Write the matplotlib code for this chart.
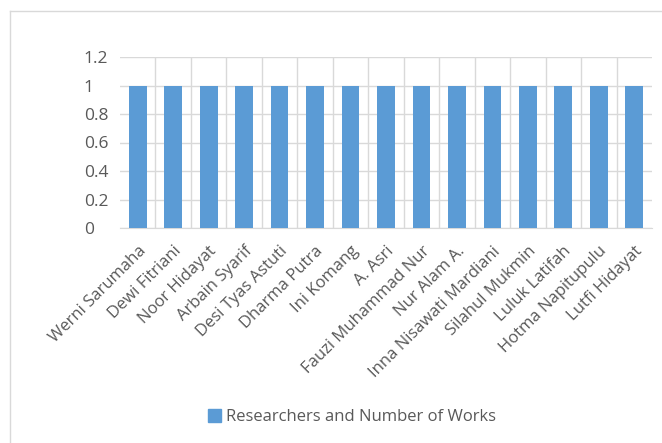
import matplotlib
matplotlib.use("Agg")
import matplotlib.pyplot as plt
from matplotlib.patches import Patch
from matplotlib.lines import Line2D

researchers = ["Werni Sarumaha", "Dewi Fitriani", "Noor Hidayat", "Arbain Syarif",
               "Desi Tyas Astuti", "Dharma Putra", "Ini Komang", "A. Asri",
               "Fauzi Muhammad Nur", "Nur Alam A.", "Inna Nisawati Mardiani",
               "Silahul Mukmin", "Luluk Latifah", "Hotma Napitupulu", "Lutfi Hidayat"]
works = [1, 1, 1, 1, 1, 1, 1, 1, 1, 1, 1, 1, 1, 1, 1]
yticks = [0, 0.2, 0.4, 0.6, 0.8, 1, 1.2]
ytick_labels = ["0", "0.2", "0.4", "0.6", "0.8", "1", "1.2"]
series_name = "Researchers and Number of Works"

W, H = 662, 443
fig = plt.figure(figsize=(W/100, H/100), dpi=100)
plt.rcParams['font.family'] = ['Open Sans', 'DejaVu Sans']

# plot area: x 120..652, y 57..228 (pixels from top)
ax = fig.add_axes([120/W, 1-228/H, (652-120)/W, (228-57)/H])
n = len(researchers)
x = list(range(n))
ax.bar(x, works, width=0.5, color="#5B9BD5", zorder=3)
ax.set_xlim(-0.5, n-0.5)
ax.set_ylim(0, 1.2)
ax.set_yticks(yticks)
ax.set_yticklabels(ytick_labels)
ax.yaxis.grid(True, color="#D9D9D9", linewidth=1, zorder=0)
for b in range(1, n):
    ax.axvline(b-0.5, color="#D9D9D9", linewidth=1, zorder=0)
for s in ["top", "right", "left"]:
    ax.spines[s].set_visible(False)
ax.spines["bottom"].set_color("#D9D9D9")
ax.tick_params(axis="y", length=0, labelsize=12.5, labelcolor="#595959", pad=26)
ax.tick_params(axis="x", length=0, labelsize=12, labelcolor="#595959", pad=11)
ax.set_xticks(x)
ax.set_xticklabels(researchers, rotation=45, ha="right", rotation_mode="anchor")
for lbl in ax.get_yticklabels():
    lbl.set_horizontalalignment("left")

# chart border (top and left visible)
fig.add_artist(Line2D([10/W, 1], [1-11/H, 1-11/H], color="#D9D9D9", linewidth=1))
fig.add_artist(Line2D([10/W, 10/W], [0, 1-11/H], color="#D9D9D9", linewidth=1))

handle = Patch(facecolor="#5B9BD5", edgecolor="#5B9BD5")
fig.legend([handle], [series_name], loc="center", bbox_to_anchor=(352/W, 1-417/H),
           frameon=False, fontsize=12, labelcolor="#595959",
           handlelength=0.8, handleheight=0.8, handletextpad=0.3)

fig.savefig("out.png", dpi=100)
